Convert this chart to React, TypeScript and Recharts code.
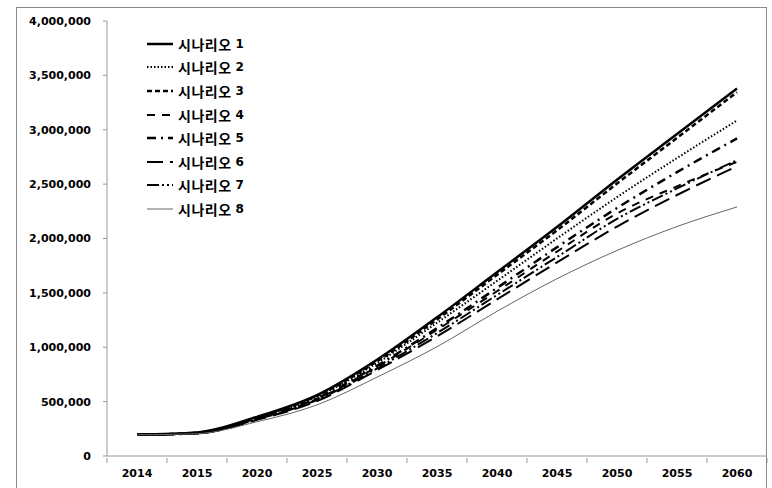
import React from 'react';
import { LineChart, Line, XAxis, YAxis } from 'recharts';

// Category labels along the x axis
const years = ['2014', '2015', '2020', '2025', '2030', '2035', '2040', '2045', '2050', '2055', '2060'];

// Scenario values
const scenario1 = [195000, 215000, 360000, 560000, 885000, 1275000, 1690000, 2105000, 2540000, 2960000, 3380000];
const scenario2 = [195000, 212000, 350000, 545000, 855000, 1225000, 1610000, 2000000, 2380000, 2740000, 3085000];
const scenario3 = [195000, 213000, 355000, 553000, 870000, 1255000, 1665000, 2075000, 2505000, 2925000, 3345000];
const scenario4 = [195000, 210000, 342000, 525000, 820000, 1160000, 1515000, 1880000, 2230000, 2480000, 2705000];
const scenario5 = [195000, 210000, 345000, 530000, 830000, 1175000, 1545000, 1920000, 2280000, 2610000, 2920000];
const scenario6 = [195000, 206000, 332000, 505000, 790000, 1100000, 1440000, 1780000, 2110000, 2400000, 2665000];
const scenario7 = [195000, 208000, 338000, 515000, 805000, 1130000, 1480000, 1830000, 2180000, 2460000, 2720000];
const scenario8 = [195000, 205000, 315000, 470000, 725000, 1005000, 1330000, 1630000, 1890000, 2110000, 2290000];

const yTicks = [0, 500000, 1000000, 1500000, 2000000, 2500000, 3000000, 3500000, 4000000];

const seriesNames = ['시나리오', '시나리오', '시나리오', '시나리오', '시나리오', '시나리오', '시나리오', '시나리오'];
const seriesNums = ['1', '2', '3', '4', '5', '6', '7', '8'];
const seriesValues = [scenario1, scenario2, scenario3, scenario4, scenario5, scenario6, scenario7, scenario8];

// line looks, one per scenario
const lineStyles = [
  { stroke: '#000', width: 2.5, dash: undefined },
  { stroke: '#000', width: 2, dash: '1.5 2' },
  { stroke: '#000', width: 2.5, dash: '5 3' },
  { stroke: '#000', width: 2, dash: '8 7' },
  { stroke: '#000', width: 2.5, dash: '9 5 2 5' },
  { stroke: '#000', width: 2, dash: '16 7' },
  { stroke: '#000', width: 2, dash: '12 3 2 3 2 3' },
  { stroke: '#666', width: 1, dash: undefined },
];

const chartData = years.map((year, i) => {
  const row: Record<string, number | string> = { i, year };
  seriesValues.forEach((vals, k) => {
    row[`s${k + 1}`] = vals[i];
  });
  return row;
});

const labelTicks = years.map((_, i) => i);

const fmt = (v: number) => v.toLocaleString('en-US');

const axisColor = '#999';
const numFont = '"DejaVu Sans", sans-serif';

const chartW = 772;
const chartH = 488;
const yAxisW = 107;
const marginR = 5;
const halfBand = (chartW - yAxisW - marginR) / years.length / 2;

// x tick: year label centred in its band, tick marks on the band edges (Excel style)
const YearTick = (props: any) => {
  const { x, y, payload } = props;
  const idx = payload.value as number;
  const y0 = y - 6;
  return (
    <g>
      <line x1={x - halfBand} y1={y0} x2={x - halfBand} y2={y0 + 5} stroke={axisColor} strokeWidth={1} />
      {idx === years.length - 1 && (
        <line x1={x + halfBand} y1={y0} x2={x + halfBand} y2={y0 + 5} stroke={axisColor} strokeWidth={1} />
      )}
      <text
        x={x}
        y={y + 5}
        dy="0.71em"
        textAnchor="middle"
        fill="#000"
        fontSize={11}
        fontWeight={700}
        fontFamily={numFont}
      >
        {years[idx]}
      </text>
    </g>
  );
};

const LegendBox = () => (
  <div style={{ position: 'absolute', left: 146, top: 32 }}>
    {seriesNames.map((name, k) => (
      <div key={k} style={{ display: 'flex', alignItems: 'center', height: 23.6 }}>
        <svg width={28} height={10} style={{ marginRight: 4 }}>
          <line
            x1={1}
            y1={5}
            x2={27}
            y2={5}
            stroke={lineStyles[k].stroke}
            strokeWidth={lineStyles[k].width}
            strokeDasharray={lineStyles[k].dash}
          />
        </svg>
        <span
          style={{
            fontFamily: '"Noto Sans CJK KR", sans-serif',
            fontWeight: 700,
            fontSize: 14,
            letterSpacing: 0.5,
            color: '#000',
          }}
        >
          {name}
        </span>
        <span style={{ fontFamily: numFont, fontWeight: 700, fontSize: 12, color: '#000', marginLeft: 4 }}>
          {seriesNums[k]}
        </span>
      </div>
    ))}
  </div>
);

const App = () => (
  <div style={{ position: 'absolute', left: 0, top: 0, width: chartW, height: chartH, background: '#fff' }}>
    <LineChart width={chartW} height={chartH} data={chartData} margin={{ top: 21, right: marginR, bottom: 0, left: 0 }}>
      <XAxis
        type="number"
        dataKey="i"
        domain={[-0.5, years.length - 0.5]}
        ticks={labelTicks}
        interval={0}
        tick={<YearTick />}
        tickLine={{ stroke: 'none' }}
        tickSize={6}
        height={32}
        axisLine={{ stroke: axisColor, strokeWidth: 1 }}
      />
      <YAxis
        type="number"
        domain={[0, 4000000]}
        ticks={yTicks}
        tickFormatter={fmt}
        width={yAxisW}
        tickSize={4}
        tickMargin={12}
        axisLine={{ stroke: axisColor }}
        tickLine={{ stroke: axisColor }}
        tick={{ fill: '#000', fontSize: 11, fontWeight: 700, fontFamily: numFont }}
      />
      {seriesValues.map((_, k) => (
        <Line
          key={k}
          type="monotone"
          dataKey={`s${k + 1}`}
          name={`${seriesNames[k]} ${seriesNums[k]}`}
          stroke={lineStyles[k].stroke}
          strokeWidth={lineStyles[k].width}
          strokeDasharray={lineStyles[k].dash}
          dot={false}
          isAnimationActive={false}
        />
      ))}
    </LineChart>
    {/* outer frame, open at the bottom */}
    <div
      style={{
        position: 'absolute',
        left: 16,
        top: 7,
        width: 751,
        height: 481,
        borderTop: '1px solid #8a8a8a',
        borderLeft: '1px solid #8a8a8a',
        borderRight: '1px solid #8a8a8a',
        boxSizing: 'border-box',
        pointerEvents: 'none',
      }}
    />
    <LegendBox />
  </div>
);

export default App;
